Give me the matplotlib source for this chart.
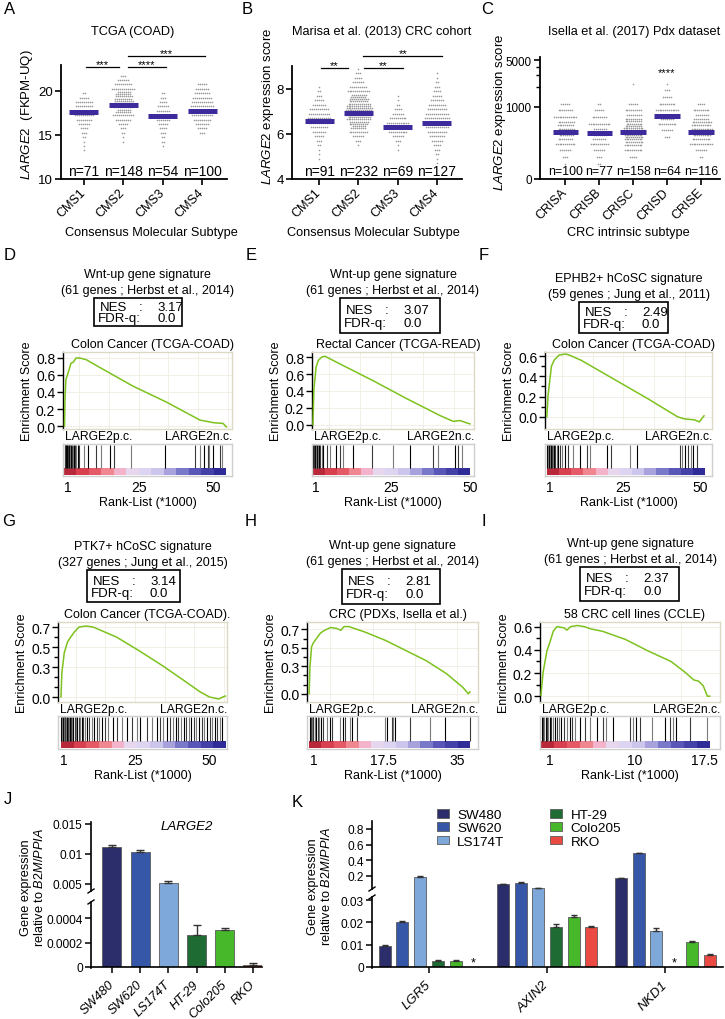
import math
import numpy as np
import matplotlib
matplotlib.use('Agg')
import matplotlib.pyplot as plt
from matplotlib.patches import Rectangle
from matplotlib.colors import ListedColormap
from matplotlib.ticker import FixedLocator, NullFormatter

plt.rcParams['font.family'] = ['Liberation Sans', 'DejaVu Sans']
plt.rcParams['mathtext.fontset'] = 'custom'
plt.rcParams['mathtext.rm'] = 'Liberation Sans'
plt.rcParams['mathtext.it'] = 'Liberation Sans:italic'
plt.rcParams['axes.linewidth'] = 1.0

# ====================== DATA ======================
# Panel A : TCGA (COAD)
cms_cats = ['CMS1', 'CMS2', 'CMS3', 'CMS4']
a_n = [71, 148, 54, 100]
a_means = [17.6, 18.4, 17.2, 17.7]
a_bin_width = 0.5
a_bin_starts = [13.0, 14.0, 13.5, 15.0]
a_cms1_counts = [1, 1, 1, 2, 3, 4, 6, 8, 10, 10, 9, 9, 5, 2]
a_cms2_counts = [1, 1, 2, 3, 5, 8, 11, 15, 19, 20, 18, 15, 12, 9, 6, 3]
a_cms3_counts = [1, 2, 2, 3, 4, 5, 7, 8, 7, 6, 4, 3, 2]
a_cms4_counts = [3, 5, 7, 9, 11, 12, 12, 11, 10, 8, 7, 5]

# Panel B : Marisa et al. (2013)
b_n = [91, 232, 69, 127]
b_means = [6.58, 6.93, 6.31, 6.49]
b_bin_width = 0.2
b_bin_starts = [4.8, 5.4, 5.2, 4.6]
b_cms1_counts = [1, 1, 1, 2, 3, 5, 7, 9, 11, 12, 11, 10, 7, 5, 3, 2, 1]
b_cms2_counts = [1, 3, 6, 10, 15, 20, 25, 28, 28, 25, 20, 16, 12, 9, 6, 4, 3, 1]
b_cms3_counts = [1, 1, 3, 6, 10, 13, 12, 9, 6, 4, 2, 1, 1]
b_cms4_counts = [1, 1, 2, 3, 4, 6, 8, 10, 12, 13, 13, 12, 10, 9, 7, 5, 4, 3, 2, 1, 1]

# Panel C : Isella et al. (2017) PDX (bins in log10 units)
cris_cats = ['CRISA', 'CRISB', 'CRISC', 'CRISD', 'CRISE']
c_n = [100, 77, 158, 64, 116]
c_means = [424, 410, 424, 734, 424]
c_log_bin_width = 0.1
c_log_bin_starts = [2.1, 2.1, 2.2, 2.5, 2.2]
c_crisa_counts = [1, 3, 6, 11, 16, 19, 18, 13, 8, 5]
c_crisb_counts = [2, 3, 6, 10, 14, 15, 12, 8, 5, 2]
c_crisc_counts = [4, 10, 20, 30, 35, 27, 17, 9, 5, 0, 0, 1]
c_crisd_counts = [3, 6, 10, 14, 13, 9, 5, 3, 1]
c_crise_counts = [2, 6, 13, 20, 25, 22, 15, 9, 4]

# GSEA panels: running enrichment score (rank in thousands, ES) and hit ranks
d_rank = [0, 0.2, 0.5, 1.1, 2.2, 3.0, 3.9, 5.1, 7.3, 11.8, 23, 34.4, 45.6, 50, 53.4, 54.5]
d_es = [0, 0.35, 0.55, 0.61, 0.74, 0.75, 0.80, 0.80, 0.78, 0.69, 0.47, 0.28, 0.07, 0.04, 0.03, -0.01]
d_hits = [0.1, 0.25, 0.4, 0.55, 0.7, 0.85, 1.0, 1.2, 1.4, 1.6, 1.8, 2.0, 2.3, 2.6, 2.9, 3.2,
          3.6, 4.0, 4.4, 5.0, 6.7, 7.9, 10.7, 12.3, 15.2, 16.8, 22.4, 33.7, 43.8, 45.5, 47.1,
          48.2, 48.8, 49.9, 52.2, 53.1]

e_rank = [0, 0.3, 1.0, 1.7, 2.8, 3.8, 5.4, 7.5, 19.2, 29.8, 40.4, 44.7, 46.8, 48.4, 50]
e_es = [0, 0.415, 0.68, 0.76, 0.80, 0.81, 0.78, 0.74, 0.52, 0.31, 0.11, 0.04, 0.05, 0.03, 0.01]
e_hits = [0.1, 0.3, 0.5, 0.7, 0.9, 1.1, 1.3, 1.5, 1.7, 2.0, 2.2, 2.8, 3.3, 4.6, 5.4, 7.5, 8.6,
          9.6, 12.8, 18.7, 25.6, 30.9, 38.3, 39.9, 45.2, 46.3, 47.4]

f_rank = [0, 0.4, 1.0, 1.5, 2.4, 4.0, 6.2, 7.3, 11.1, 22, 32.9, 42.7, 44.9, 48.2, 49.8, 51.0, 51.3]
f_es = [0, 0.21, 0.37, 0.50, 0.56, 0.61, 0.62, 0.61, 0.56, 0.37, 0.18, 0.0, -0.02, -0.03, -0.05, 0.0, 0.01]
f_hits = [0.1, 0.3, 0.5, 0.7, 0.9, 1.1, 1.4, 1.7, 2.0, 2.4, 2.8, 3.2, 3.7, 4.2, 5.1, 6.0, 7.0,
          8.6, 10.8, 13.0, 14.1, 19.5, 20.8, 27.1, 29.3, 43.5, 44.0, 45.1, 46.2, 47.0, 47.8, 48.9]

g_rank = [0, 0.3, 1.1, 2.2, 3.3, 4.5, 6.1, 8.5, 10.8, 18.7, 26.5, 34.4, 42.2, 47, 50.1, 53.2, 54.6, 55.4]
g_es = [0, 0.24, 0.44, 0.55, 0.60, 0.65, 0.70, 0.71, 0.70, 0.60, 0.46, 0.31, 0.15, 0.05, 0.0, -0.02, 0.0, 0.01]
g_hits = [0.1, 0.3, 0.5, 0.7, 0.9, 1.1, 1.3, 1.5, 1.8, 2.1, 2.4, 2.7, 3.0, 3.4, 3.8, 4.2, 4.6,
          5.0, 5.5, 6.0, 6.5, 7.0, 7.6, 8.2, 8.9, 9.6, 10.4, 11.2, 12.0, 12.9, 13.8, 14.8, 15.8,
          17.7, 18.8, 20.5, 22.2, 23.9, 25.6, 26.7, 28.9, 30.6, 32.3, 33.4, 34.5, 35.6, 36.8,
          37.9, 38.8, 39.6, 40.5, 41.4, 42.3, 43.1, 44.0, 44.9, 45.7, 46.6, 47.5, 48.3, 49.2,
          50.1, 51.0, 51.8, 52.7, 53.6, 54.4]

h_rank = [0, 0.19, 0.58, 0.96, 1.73, 2.69, 3.65, 5.09, 6.53, 7.48, 8.25, 9.4, 13.24, 18.04,
          22.84, 27.64, 32.4, 36.3, 37.6, 38.0]
h_es = [0, 0.29, 0.51, 0.55, 0.60, 0.66, 0.69, 0.72, 0.71, 0.69, 0.73, 0.73, 0.67, 0.58,
        0.47, 0.36, 0.22, 0.07, 0.0, 0.02]
h_hits = [0.2, 0.4, 0.6, 0.8, 1.0, 1.3, 1.6, 2.0, 2.4, 2.8, 3.3, 4.2, 5.0, 5.4, 7.3, 7.9, 8.5,
          9.7, 10.1, 11.2, 17.9, 18.3, 19.5, 19.9, 20.3, 23.8, 28.5, 32.0, 37.9]

i_rank = [0, 0.24, 0.64, 0.98, 1.32, 1.71, 2.45, 2.79, 3.18, 3.91, 4.65, 5.38, 6.6, 9.05,
          11.5, 13.94, 15.4, 16.4, 16.9, 17.4, 17.85, 18.1]
i_es = [0.01, 0.21, 0.39, 0.47, 0.56, 0.60, 0.59, 0.57, 0.60, 0.61, 0.60, 0.58, 0.56, 0.49,
        0.39, 0.30, 0.21, 0.14, 0.13, 0.09, 0.0, 0.0]
i_hits = [0.1, 0.2, 0.35, 0.5, 0.65, 0.8, 0.95, 1.1, 1.3, 1.5, 1.7, 1.9, 2.2, 2.5, 2.8, 3.1,
          3.3, 3.6, 4.2, 4.7, 5.3, 6.0, 6.7, 7.0, 7.7, 9.5, 9.9, 10.2, 10.6, 11.9, 13.3, 13.8,
          14.2, 14.5, 16.0, 17.8]

# Panel J : LARGE2 qPCR
cell_lines = ['SW480', 'SW620', 'LS174T', 'HT-29', 'Colo205', 'RKO']
j_values = [0.0112, 0.0104, 0.0052, 0.00026, 0.00030, 0.000016]
j_errors = [0.0003, 0.0003, 0.0003, 0.00008, 0.00002, 0.000014]

# Panel K : Wnt targets qPCR (nan = not detected, marked *)
k_genes = ['LGR5', 'AXIN2', 'NKD1']
k_sw480 = [0.0096, 0.098, 0.175]
k_sw620 = [0.0203, 0.115, 0.49]
k_ls174t = [0.19, 0.05, 0.016]
k_ht29 = [0.0027, 0.0179, np.nan]
k_colo205 = [0.0028, 0.0224, 0.011]
k_rko = [np.nan, 0.018, 0.0055]
k_sw480_err = [0.0003, 0.002, 0.004]
k_sw620_err = [0.0003, 0.003, 0.006]
k_ls174t_err = [0.01, 0.002, 0.0015]
k_ht29_err = [0.0003, 0.0012, np.nan]
k_colo205_err = [0.0003, 0.0009, 0.0006]
k_rko_err = [np.nan, 0.0003, 0.0003]

# ====================== STYLE ======================
line_colors = ['#2b2e6b', '#3656a8', '#7ea8da', '#1e6b33', '#46b82a', '#ea4a41']
mean_color = '#3d2b9e'
dot_color = '#9a9a9a'
gsea_green = '#7dc21e'
cbar_colors = ['#b8283a', '#d9404f', '#e65a67', '#ef8690', '#f2b3cb', '#e6d7ee', '#dcd4f0',
               '#ccc5ec', '#a7a2dc', '#7a78c8', '#5a56b8', '#4340a8', '#2f2c9a']
hit_colors = ['#000000', '#3a3a3a', '#7a7a7a']

W, H = 725, 1020
fig = plt.figure(figsize=(W / 100, H / 100), dpi=100)


def add_ax(x0, y0, x1, y1):
    return fig.add_axes([x0 / W, 1 - y1 / H, (x1 - x0) / W, (y1 - y0) / H])


def ftext(x, y, s, **kw):
    kw.setdefault('ha', 'center')
    kw.setdefault('va', 'center')
    return fig.text(x / W, 1 - y / H, s, **kw)


def fline(xs, ys, **kw):
    fig.add_artist(plt.Line2D([x / W for x in xs], [1 - y / H for y in ys],
                              transform=fig.transFigure, **kw))


def fbox(x0, y0, x1, y1):
    fig.add_artist(Rectangle((x0 / W, 1 - y1 / H), (x1 - x0) / W, (y1 - y0) / H,
                             transform=fig.transFigure, fill=False, ec='k', lw=1.2))


def beeswarm(ax, xc, start, bw, counts, dx, maxper, log=False):
    xs, ys = [], []
    for b, c in enumerate(counts):
        if c == 0:
            continue
        k = math.ceil(c / maxper)
        per = [c // k + (1 if r < c % k else 0) for r in range(k)]
        for r, m in enumerate(per):
            y = start + bw * (b + (r + 0.5) / k)
            off = (np.arange(m) - (m - 1) / 2) * dx + (dx / 2 if r % 2 else 0)
            xs.extend(xc + off)
            ys.extend([10 ** y if log else y] * m)
    ax.scatter(xs, ys, s=1.4, c=dot_color, linewidths=0, zorder=2)


def style_dot_axes(ax, cats, ytick_size):
    for s in ['top', 'right']:
        ax.spines[s].set_visible(False)
    ax.spines['left'].set_linewidth(1.3)
    ax.spines['bottom'].set_linewidth(1.3)
    ax.set_xticks(range(1, len(cats) + 1))
    ax.set_xticklabels(cats, rotation=45, ha='right', va='center', rotation_mode='anchor',
                       fontsize=9)
    ax.tick_params(direction='out', length=4, width=1.2, pad=2)
    ax.tick_params(axis='x', pad=4)
    ax.tick_params(axis='y', labelsize=ytick_size)


def sig(ax, x0, x1, y, label):
    ax.plot([x0, x1], [y, y], color='k', lw=0.9, clip_on=False)
    ax.text((x0 + x1) / 2, y, label, ha='center', va='baseline', fontsize=8, clip_on=False)


# ---------------- Panel A ----------------
axA = add_ax(61, 66, 227, 180)
for i, (st, cnt) in enumerate(zip(a_bin_starts, [a_cms1_counts, a_cms2_counts, a_cms3_counts, a_cms4_counts])):
    beeswarm(axA, i + 1, st, a_bin_width, cnt, 0.05, 14)
for i, m in enumerate(a_means):
    axA.hlines(m, i + 1 - 0.37, i + 1 + 0.37, color=mean_color, lw=3.6, zorder=3)
for i, n in enumerate(a_n):
    axA.text(i + 1, 10.9, f'n={n}', ha='center', va='center', fontsize=10)
axA.set_xlim(0.42, 4.63)
axA.set_ylim(10, 22.95)
axA.set_yticks([10, 15, 20])
style_dot_axes(axA, cms_cats, 9.5)
sig(axA, 1.05, 1.89, 22.7, '***')
sig(axA, 2.11, 3.08, 22.7, '****')
sig(axA, 2.11, 4.06, 24.0, '***')
ftext(133, 32, 'TCGA (COAD)', fontsize=9.2)
ftext(27, 115, r'$\mathit{LARGE2}$  (FKPM-UQ)', rotation=90, fontsize=9.5)
ftext(151, 233, 'Consensus Molecular Subtype', fontsize=9.2)

# ---------------- Panel B ----------------
axB = add_ax(292, 67, 462, 180)
for i, (st, cnt) in enumerate(zip(b_bin_starts, [b_cms1_counts, b_cms2_counts, b_cms3_counts, b_cms4_counts])):
    beeswarm(axB, i + 1, st, b_bin_width, cnt, 0.05, 14)
for i, m in enumerate(b_means):
    axB.hlines(m, i + 1 - 0.37, i + 1 + 0.37, color=mean_color, lw=3.6, zorder=3)
for i, n in enumerate(b_n):
    axB.text(i + 1, 4.36, f'n={n}', ha='center', va='center', fontsize=10)
axB.set_xlim(0.31, 4.64)
axB.set_ylim(4, 9.02)
axB.set_yticks([4, 6, 8])
style_dot_axes(axB, cms_cats, 9.5)
sig(axB, 1.05, 1.74, 8.93, '**')
sig(axB, 2.15, 3.13, 8.93, '**')
sig(axB, 2.13, 4.13, 9.47, '**')
ftext(382, 32, 'Marisa et al. (2013) CRC cohort', fontsize=9.2)
ftext(268, 106, r'$\mathit{LARGE2}$ expression score', rotation=90, fontsize=9.5)
ftext(373, 233, 'Consensus Molecular Subtype', fontsize=9.2)

# ---------------- Panel C ----------------
axC = add_ax(540, 58, 720, 180)
axC.set_yscale('log')
c_counts = [c_crisa_counts, c_crisb_counts, c_crisc_counts, c_crisd_counts, c_crise_counts]
for i, (st, cnt) in enumerate(zip(c_log_bin_starts, c_counts)):
    beeswarm(axC, i + 1, st, c_log_bin_width, cnt, 0.055, 13, log=True)
for i, m in enumerate(c_means):
    axC.hlines(m, i + 1 - 0.37, i + 1 + 0.37, color=mean_color, lw=3.6, zorder=3)
for i, n in enumerate(c_n):
    axC.text(i + 1, 110, f'n={n}', ha='center', va='center', fontsize=8.9)
axC.set_xlim(0.26, 5.56)
axC.set_ylim(84, 5570)
axC.set_yticks([84, 1000, 5000])
axC.set_yticklabels(['0', '1000', '5000'])
axC.yaxis.set_minor_locator(FixedLocator([2000, 3000, 4000]))
axC.yaxis.set_minor_formatter(NullFormatter())
style_dot_axes(axC, cris_cats, 8.4)
axC.tick_params(axis='y', which='minor', length=3, width=1)
axC.text(4, 3000, '****', ha='center', va='baseline', fontsize=8)
ftext(634, 32, 'Isella et al. (2017) Pdx dataset', fontsize=9.2)
ftext(500, 112, r'$\mathit{LARGE2}$ expression score', rotation=90, fontsize=9.5)
ftext(628, 233, 'CRC intrinsic subtype', fontsize=9.2)


# ---------------- GSEA panels ----------------
def gsea(x0, x1, es_top, es_bot, bc_top, bc_bot, xlim, ranks, es, ylim, yticks, yminor,
         hits, data_end, xt_pos, xt_lab, t1, t2, box, nes, sub):
    ax = add_ax(x0, es_top, x1, es_bot)
    ax.plot(ranks, es, color=gsea_green, lw=1.1, zorder=3)
    ax.set_xlim(*xlim)
    ax.set_ylim(*ylim)
    ax.set_yticks(yticks)
    ax.set_yticklabels([f'{v:.1f}' for v in yticks])
    if yminor:
        ax.yaxis.set_minor_locator(FixedLocator(yminor))
    ax.set_xticks([v for v in range(5, 60, 10) if v < xlim[1]])
    ax.set_xticklabels([])
    ax.tick_params(axis='x', length=0)
    ax.tick_params(axis='y', which='both', direction='out', length=4, width=1,
                   labelsize=10, pad=1.5)
    ax.tick_params(axis='y', which='minor', length=3)
    ax.grid(True, color='#efede2', lw=0.6)
    for s in ['top', 'right', 'bottom']:
        ax.spines[s].set_color('#dcd9c4')
    ax.spines['left'].set_color('k')
    ax.set_ylabel('Enrichment Score', fontsize=9, labelpad=2)

    ftext(x0 + 2, es_bot + 7, 'LARGE2p.c.', ha='left', fontsize=8.7)
    ftext(x1, es_bot + 7, 'LARGE2n.c.', ha='right', fontsize=8.7)

    bx = add_ax(x0, bc_top, x1, bc_bot)
    bx.imshow(np.arange(len(cbar_colors))[None, :], cmap=ListedColormap(cbar_colors),
              extent=(0, data_end, 0.03, 0.22), aspect='auto', interpolation='nearest')
    bx.vlines(hits, 0.25, 0.97, colors=[hit_colors[i % 3] for i in range(len(hits))], lw=0.8)
    bx.set_xlim(*xlim)
    bx.set_ylim(0, 1)
    bx.set_yticks([])
    bx.set_xticks(xt_pos)
    bx.set_xticklabels(xt_lab, fontsize=10)
    bx.tick_params(axis='x', length=0, pad=3)
    for s in bx.spines.values():
        s.set_color('#cfcfcf')
    bx.set_xlabel('Rank-List (*1000)', fontsize=9, labelpad=1)

    cx = (x0 + x1) / 2
    ftext(cx, box[1] - 24, t1, fontsize=9)
    ftext(cx, box[1] - 8, t2, fontsize=9)
    bx0, by0, bx1, by1 = box
    fbox(bx0, by0, bx1, by1)
    l1 = by0 + (by1 - by0) * 0.33
    l2 = by0 + (by1 - by0) * 0.72
    ftext(bx0 + 6, l1, 'NES', ha='left', fontsize=9.5)
    ftext(bx0 + 45, l1, ':', ha='left', fontsize=9.5)
    ftext(bx0 + 63, l1, nes, ha='left', fontsize=9.5)
    ftext(bx0 + 4, l2, 'FDR-q:', ha='left', fontsize=9.5)
    ftext(bx0 + 63, l2, '0.0', ha='left', fontsize=9.5)
    ftext(cx + 5, es_top - 8, sub, fontsize=9)


gsea(63, 232, 353, 430, 445, 477, (-0.5, 56.4), d_rank, d_es, (-0.035, 0.87),
     [0.0, 0.2, 0.4, 0.6, 0.8], None, d_hits, 54.5, [1, 25, 50], ['1', '25', '50'],
     'Wnt-up gene signature', '(61 genes ; Herbst et al., 2014)', (94, 299, 182, 327),
     '3.17', 'Colon Cancer (TCGA-COAD)')
gsea(312, 474, 353, 430, 445, 477, (-0.3, 51.3), e_rank, e_es, (-0.05, 0.86),
     [0.0, 0.2, 0.4, 0.6, 0.8], None, e_hits, 50, [1, 25, 50], ['1', '25', '50'],
     'Wnt-up gene signature', '(61 genes ; Herbst et al., 2014)', (340, 299, 440, 334),
     '3.07', 'Rectal Cancer (TCGA-READ)')
gsea(545, 712, 353, 430, 445, 477, (-0.6, 53.9), f_rank, f_es, (-0.12, 0.64),
     [0.0, 0.2, 0.4, 0.6], [0.1, 0.3, 0.5], f_hits, 51.3, [1, 25, 50], ['1', '25', '50'],
     'EPHB2+ hCoSC signature', '(59 genes ; Jung et al., 2011)', (579, 303, 668, 334),
     '2.49', 'Colon Cancer (TCGA-COAD)')
gsea(58, 227, 623, 703, 717, 750, (-1.0, 56.0), g_rank, g_es, (-0.05, 0.75),
     [0.0, 0.3, 0.5, 0.7], [0.1, 0.2, 0.4, 0.6], g_hits, 55.4, [1, 25, 50], ['1', '25', '50'],
     'PTK7+ hCoSC signature', '(327 genes ; Jung et al., 2015)', (87, 571, 180, 603),
     '3.14', 'Colon Cancer (TCGA-COAD).')
gsea(307, 478, 623, 703, 717, 750, (-0.5, 39.9), h_rank, h_es, (-0.09, 0.78),
     [0.0, 0.3, 0.5, 0.7], [0.1, 0.2, 0.4, 0.6], h_hits, 38.0, [1, 17.5, 35], ['1', '17.5', '35'],
     'Wnt-up gene signature', '(61 genes ; Herbst et al., 2014)', (342, 570, 440, 605),
     '2.81', 'CRC (PDXs, Isella et al.)')
gsea(540, 720, 623, 703, 717, 750, (-0.1, 19.2), i_rank, i_es, (-0.05, 0.64),
     [0.0, 0.2, 0.4, 0.6], [0.1, 0.3, 0.5], i_hits, 18.1, [1, 10, 17.5], ['1', '10', '17.5'],
     'Wnt-up gene signature', '(61 genes ; Herbst et al., 2014)', (580, 568, 679, 602),
     '2.37', '58 CRC cell lines (CCLE)')


# ---------------- broken (piecewise-linear) y scale ----------------
def piecewise(vals, pos):
    vals = list(vals)
    pos = list(pos)
    s_hi = (pos[-1] - pos[-2]) / (vals[-1] - vals[-2])
    s_lo = (pos[1] - pos[0]) / (vals[1] - vals[0])
    v_ext = np.array([-1.0] + vals + [vals[-1] * 1000])
    p_ext = np.array([-s_lo] + pos + [pos[-1] + (vals[-1] * 1000 - vals[-1]) * s_hi])

    def fwd(v):
        return np.interp(v, v_ext, p_ext)

    def inv(p):
        return np.interp(p, p_ext, v_ext)
    return fwd, inv


def broken_axis(ax, x_px, bottom_px, pos):
    # pos: [0, lower_top, upper_bottom, top] in px above bottom
    ax.spines['left'].set_visible(False)
    ax.spines['top'].set_visible(False)
    ax.spines['right'].set_visible(False)
    ax.spines['bottom'].set_linewidth(1.2)
    lt = bottom_px - pos[1]
    ub = bottom_px - pos[2]
    top = bottom_px - pos[3]
    fline([x_px, x_px], [bottom_px + 0.5, lt], color='k', lw=1.2)
    fline([x_px, x_px], [ub, top], color='k', lw=1.2)
    fline([x_px - 3, x_px + 3], [lt + 2, lt - 2], color='k', lw=1.0)
    fline([x_px - 3, x_px + 3], [ub + 2, ub - 2], color='k', lw=1.0)
    ax.tick_params(axis='y', direction='out', length=4, width=1.1, labelsize=8.6, pad=2)
    ax.tick_params(axis='x', direction='out', length=4, width=1.1, pad=7)


# ---------------- Panel J ----------------
j_breaks = [0, 0.000531, 0.00383, 0.01533]
j_pos = [0, 65, 76, 145]
jx = np.arange(len(cell_lines))
axJ = add_ax(91, 823, 262, 968)
axJ.set_yscale('function', functions=piecewise(j_breaks, j_pos))
axJ.bar(jx, j_values, width=0.68, color=line_colors, edgecolor='#5a5a5a', lw=0.6, zorder=2)
axJ.errorbar(jx, j_values, yerr=[np.zeros(len(jx)), j_errors], fmt='none',
             ecolor='#333333', elinewidth=1, capsize=3, capthick=1, zorder=3)
axJ.set_xlim(-0.74, 5.32)
axJ.set_ylim(0, 0.01533)
axJ.set_yticks([0, 0.0002, 0.0004, 0.005, 0.01, 0.015])
axJ.set_yticklabels(['0', '0.0002', '0.0004', '0.005', '0.01', '0.015'])
axJ.yaxis.set_minor_locator(FixedLocator([]))
axJ.set_xticks(jx)
axJ.set_xticklabels(cell_lines, rotation=45, ha='right', va='center', rotation_mode='anchor',
                    fontsize=9.3, style='italic')
broken_axis(axJ, 91, 968, j_pos)
ftext(187, 827, 'LARGE2', fontsize=9.5, style='italic')
ftext(33, 888, 'Gene expression\nrelative to $\\mathit{B2M/PPIA}$', rotation=90,
      fontsize=9.2, linespacing=1.1)

# ---------------- Panel K ----------------
k_breaks = [0, 0.0314, 0.034, 0.902]
k_pos = [0, 70, 78, 146]
group_step = 6.67
k_series = [k_sw480, k_sw620, k_ls174t, k_ht29, k_colo205, k_rko]
k_errs = [k_sw480_err, k_sw620_err, k_ls174t_err, k_ht29_err, k_colo205_err, k_rko_err]
gx = np.arange(len(k_genes)) * group_step
axK = add_ax(372, 822, 723, 968)
axK.set_yscale('function', functions=piecewise(k_breaks, k_pos))
handles = []
for j, (vals, errs, col, name) in enumerate(zip(k_series, k_errs, line_colors, cell_lines)):
    xs = gx + (j - 2.5)
    v = np.array(vals, dtype=float)
    e = np.array(errs, dtype=float)
    ok = ~np.isnan(v)
    bars = axK.bar(xs[ok], v[ok], width=0.68, color=col, edgecolor='#5a5a5a',
                   lw=0.6, zorder=2, label=name)
    axK.errorbar(xs[ok], v[ok], yerr=[np.zeros(ok.sum()), e[ok]], fmt='none',
                 ecolor='#333333', elinewidth=1, capsize=2.5, capthick=1, zorder=3)
    handles.append(bars)
    for xx, vv in zip(xs, v):
        if np.isnan(vv):
            axK.text(xx, 0.0009, '*', ha='center', va='baseline', fontsize=9)
axK.set_xlim(-3.22, 16.6)
axK.set_ylim(0, 0.902)
axK.set_yticks([0, 0.01, 0.02, 0.03, 0.2, 0.4, 0.6, 0.8])
axK.set_yticklabels(['0', '0.01', '0.02', '0.03', '0.2', '0.4', '0.6', '0.8'])
axK.yaxis.set_minor_locator(FixedLocator([]))
axK.set_xticks(gx)
axK.set_xticklabels(k_genes, rotation=45, ha='right', va='center', rotation_mode='anchor',
                    fontsize=9.5, style='italic')
broken_axis(axK, 372, 968, k_pos)
fig.legend(handles=handles, labels=cell_lines, ncol=2, loc='upper left',
           bbox_to_anchor=(437 / W, 1 - 810 / H), frameon=False, fontsize=9.7,
           handlelength=0.9, handleheight=0.6, handletextpad=0.6, labelspacing=0.1,
           columnspacing=3.4, borderpad=0, borderaxespad=0)
ftext(320, 887, 'Gene expression\nrelative to $\\mathit{B2M/PPIA}$', rotation=90,
      fontsize=9.2, linespacing=1.1)

# ---------------- Panel letters ----------------
for lab, x, y in [('A', 10, 10), ('B', 247, 10), ('C', 487, 10),
                  ('D', 10, 255), ('E', 251, 255), ('F', 484, 255),
                  ('G', 9, 522), ('H', 251, 522), ('I', 484, 522),
                  ('J', 8, 800), ('K', 297, 803)]:
    ftext(x, y, lab, fontsize=12)

fig.savefig('out.png', dpi=100)
